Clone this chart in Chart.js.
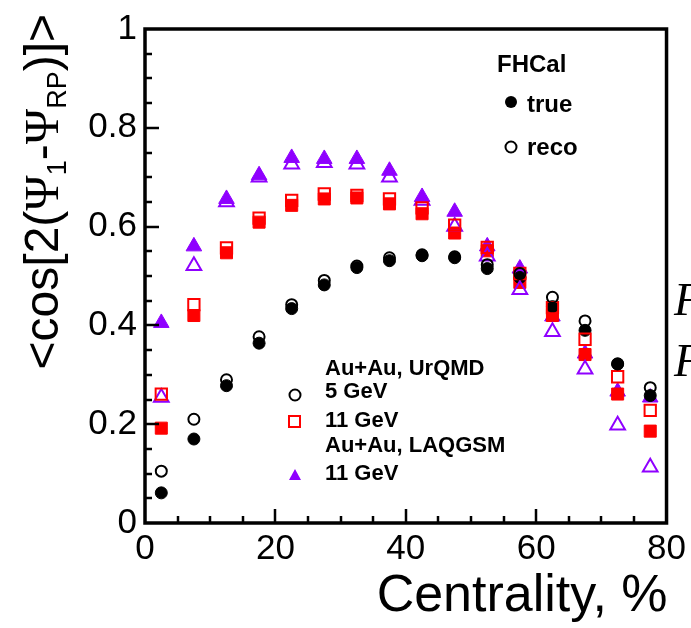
<!DOCTYPE html>
<html>
<head>
<meta charset="utf-8">
<script src="https://cdn.jsdelivr.net/npm/chart.js@4/dist/chart.umd.min.js"></script>
<style>
  html, body { margin: 0; padding: 0; background: #fff; }
  #wrap { width: 691px; height: 628px; position: relative; }
</style>
</head>
<body>
<div id="wrap"><canvas id="flowChart"></canvas></div>
<script>
// Centrality bin centres, %
const centrality = [2.5, 7.5, 12.5, 17.5, 22.5, 27.5, 32.5, 37.5, 42.5, 47.5, 52.5, 57.5, 62.5, 67.5, 72.5, 77.5];

// Au+Au UrQMD, 5 GeV
const urqmd5True = [0.061, 0.170, 0.278, 0.364, 0.434, 0.482, 0.517, 0.531, 0.541, 0.537, 0.515, 0.497, 0.438, 0.390, 0.322, 0.258];
const urqmd5Reco = [0.105, 0.210, 0.290, 0.377, 0.442, 0.491, 0.520, 0.537, 0.543, 0.539, 0.523, 0.505, 0.457, 0.409, 0.322, 0.274];

// Au+Au UrQMD, 11 GeV
const urqmd11True = [0.192, 0.420, 0.547, 0.609, 0.643, 0.656, 0.658, 0.646, 0.626, 0.587, 0.551, 0.487, 0.420, 0.341, 0.261, 0.186];
const urqmd11Reco = [0.261, 0.442, 0.557, 0.617, 0.653, 0.666, 0.663, 0.656, 0.638, 0.603, 0.558, 0.505, 0.436, 0.372, 0.296, 0.228];

// Au+Au LAQGSM, 11 GeV
const laqgsm11True = [0.405, 0.560, 0.656, 0.704, 0.739, 0.737, 0.737, 0.713, 0.660, 0.630, 0.560, 0.515, 0.418, 0.343, 0.266, 0.254];
const laqgsm11Reco = [0.254, 0.521, 0.650, 0.700, 0.726, 0.729, 0.726, 0.700, 0.653, 0.600, 0.540, 0.472, 0.387, 0.311, 0.198, 0.113];

// Axis ticks
const xTickValues = [0, 20, 40, 60, 80];
const yTickValues = [0, 0.2, 0.4, 0.6, 0.8, 1];

const RED = '#ff0000';
const VIOLET = '#8f00ff';
const SANS = '"Liberation Sans", Arial, Helvetica, sans-serif';
const SERIF = '"Liberation Serif", "Times New Roman", serif';

const toPoints = values => values.map((y, i) => ({ x: centrality[i], y }));

function markerSet(label, values, style, color, filled, radius) {
  return {
    label,
    data: toPoints(values),
    pointStyle: style,
    pointRadius: radius,
    pointHoverRadius: radius,
    backgroundColor: filled ? color : 'rgba(0,0,0,0)',
    borderColor: color,
    pointBorderWidth: filled ? 1 : 2,
    showLine: false
  };
}

// Inward ticks, frame, axis titles and the two legends
const framePlugin = {
  id: 'frame',
  afterDraw(chart) {
    const { ctx, chartArea: a, scales } = chart;
    const xs = scales.x, ys = scales.y;
    ctx.save();
    ctx.strokeStyle = '#000';

    // minor / major ticks pointing into the plot
    ctx.lineWidth = 2.5;
    ctx.beginPath();
    for (let i = 1; i < 16; i++) {
      const px = Math.round(xs.getPixelForValue(i * 5));
      const len = i % 4 === 0 ? 14 : 7;
      ctx.moveTo(px, a.bottom);
      ctx.lineTo(px, a.bottom - len);
    }
    for (let i = 1; i < 20; i++) {
      const py = Math.round(ys.getPixelForValue(i * 0.05));
      const len = i % 4 === 0 ? 14 : 7;
      ctx.moveTo(a.left, py);
      ctx.lineTo(a.left + len, py);
    }
    ctx.stroke();

    ctx.lineWidth = 3.5;
    ctx.strokeRect(a.left, a.top, a.right - a.left, a.bottom - a.top);

    // x axis title, right aligned to the axis end
    ctx.fillStyle = '#000';
    ctx.font = '52px ' + SANS;
    ctx.textAlign = 'right';
    ctx.textBaseline = 'alphabetic';
    ctx.fillText('Centrality, %', a.right + 1, 611);

    // y axis title with subscripts, rotated
    const mainFont = '48px ' + SANS;
    const psiFont = '48px ' + SERIF;
    const subFont = '27px ' + SANS;
    const parts = [
      ['<cos[2(', mainFont, 0],
      ['\u03A8', psiFont, 0],
      ['1', subFont, 8],
      ['-', mainFont, 0],
      ['\u03A8', psiFont, 0],
      ['RP', subFont, 8],
      [')]>', mainFont, 0]
    ];
    let total = 0;
    parts.forEach(p => { ctx.font = p[1]; total += ctx.measureText(p[0]).width; });
    ctx.translate(58, 14 + total);
    ctx.rotate(-Math.PI / 2);
    ctx.textAlign = 'left';
    let cx = 0;
    parts.forEach(p => {
      ctx.font = p[1];
      ctx.fillText(p[0], cx, p[2]);
      cx += ctx.measureText(p[0]).width;
    });
    ctx.setTransform(1, 0, 0, 1, 0, 0);

    // detector legend
    ctx.textAlign = 'left';
    ctx.font = 'bold 24px ' + SANS;
    ctx.fillText('FHCal', 497, 72);
    ctx.fillText('true', 527, 112);
    ctx.fillText('reco', 527, 155);
    ctx.beginPath();
    ctx.arc(511, 102, 6, 0, Math.PI * 2);
    ctx.fill();
    ctx.lineWidth = 2;
    ctx.beginPath();
    ctx.arc(511, 147, 5.5, 0, Math.PI * 2);
    ctx.stroke();

    // model legend
    ctx.font = 'bold 22px ' + SANS;
    ctx.fillText('Au+Au, UrQMD', 325, 375);
    ctx.fillText('5 GeV', 325, 398);
    ctx.fillText('11 GeV', 325, 427);
    ctx.fillText('Au+Au, LAQGSM', 325, 452);
    ctx.fillText('11 GeV', 325, 480);
    ctx.beginPath();
    ctx.arc(295, 395, 5.5, 0, Math.PI * 2);
    ctx.stroke();
    ctx.strokeStyle = RED;
    ctx.strokeRect(289, 416, 11, 11);
    ctx.fillStyle = VIOLET;
    ctx.beginPath();
    ctx.moveTo(295, 469);
    ctx.lineTo(301, 480);
    ctx.lineTo(289, 480);
    ctx.closePath();
    ctx.fill();

    // neighbouring text cut at the right edge
    ctx.fillStyle = '#000';
    ctx.font = 'italic 46px ' + SERIF;
    ctx.fillText('F', 674, 315);
    ctx.fillText('F', 674, 376);
    ctx.restore();
  }
};

new Chart(document.getElementById('flowChart'), {
  type: 'scatter',
  data: {
    datasets: [
      markerSet('UrQMD 5 GeV reco', urqmd5Reco, 'circle', '#000', false, 5.5),
      markerSet('UrQMD 11 GeV reco', urqmd11Reco, 'rect', RED, false, 8),
      markerSet('LAQGSM 11 GeV reco', laqgsm11Reco, 'triangle', VIOLET, false, 8.5),
      markerSet('UrQMD 5 GeV true', urqmd5True, 'circle', '#000', true, 6),
      markerSet('UrQMD 11 GeV true', urqmd11True, 'rect', RED, true, 8.5),
      markerSet('LAQGSM 11 GeV true', laqgsm11True, 'triangle', VIOLET, true, 9)
    ]
  },
  options: {
    responsive: true,
    maintainAspectRatio: false,
    animation: false,
    events: [],
    layout: { padding: { top: 21, right: 24, left: 0, bottom: 0 } },
    plugins: {
      legend: { display: false },
      tooltip: { enabled: false }
    },
    scales: {
      x: {
        type: 'linear',
        min: 0,
        max: 80,
        afterFit: s => { s.height = 105; },
        afterBuildTicks: s => { s.ticks = xTickValues.map(v => ({ value: v })); },
        grid: { display: false, drawTicks: false },
        border: { display: false },
        ticks: {
          color: '#000',
          padding: 5,
          maxRotation: 0,
          font: { family: SANS, size: 35 },
          callback: v => String(v)
        }
      },
      y: {
        type: 'linear',
        min: 0,
        max: 1,
        afterFit: s => { s.width = 145; },
        afterBuildTicks: s => { s.ticks = yTickValues.map(v => ({ value: v })); },
        grid: { display: false, drawTicks: false },
        border: { display: false },
        ticks: {
          color: '#000',
          padding: 8,
          font: { family: SANS, size: 35 },
          callback: v => (v === 0 || v === 1) ? String(v) : v.toFixed(1)
        }
      }
    }
  },
  plugins: [framePlugin]
});
</script>
</body>
</html>
